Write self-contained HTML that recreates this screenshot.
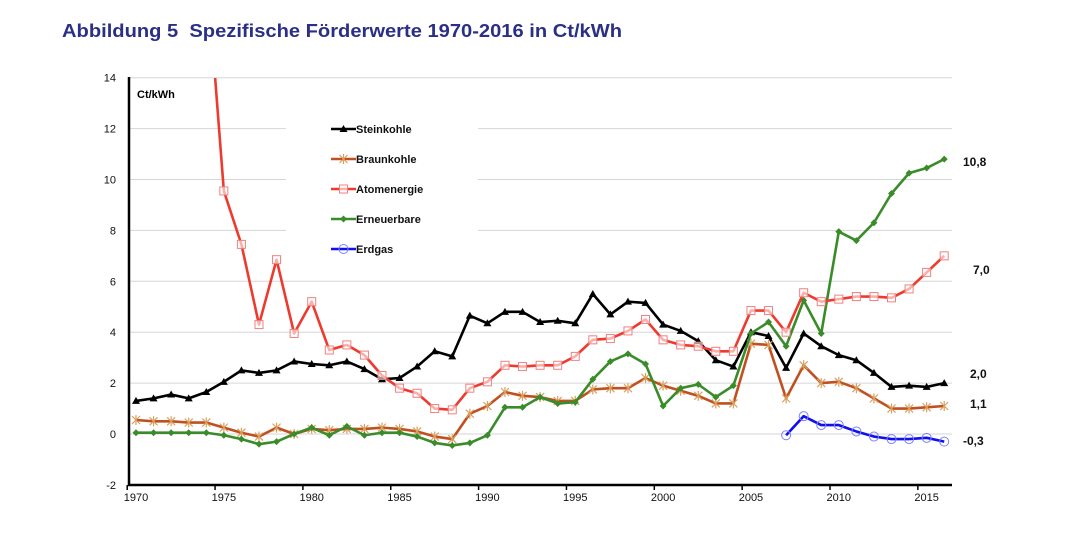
<!DOCTYPE html>
<html><head><meta charset="utf-8"><style>
body{margin:0;background:#fff;width:1079px;height:535px;overflow:hidden;font-family:"Liberation Sans","DejaVu Sans",sans-serif}
</style></head><body>
<svg id="chart" width="1079" height="535" xmlns="http://www.w3.org/2000/svg" font-family="Liberation Sans, DejaVu Sans, sans-serif">
<text x="62" y="37" font-size="18" font-weight="bold" fill="#2b2f86" textLength="560" lengthAdjust="spacingAndGlyphs" style="white-space:pre">Abbildung 5  Spezifische Förderwerte 1970-2016 in Ct/kWh</text>
<g id="grid"></g>
<rect x="286" y="100" width="192" height="165" fill="#fff"/>
<g id="axes"></g>
<g id="series"></g>
<text x="137" y="98" font-size="11" font-weight="bold">Ct/kWh</text>
<g id="legend"></g>
<g id="endlabels"></g>
</svg>
<script>
const years = [];
for (let y = 1970; y <= 2016; y++) years.push(y);
const steinkohle = [1.3,1.4,1.55,1.4,1.65,2.05,2.5,2.4,2.5,2.85, 2.75,2.7,2.85,2.55,2.15,2.2,2.65,3.25,3.05,4.65, 4.35,4.8,4.8,4.4,4.45,4.35,5.5,4.7,5.2,5.15, 4.3,4.05,3.65,2.9,2.65,4.0,3.85,2.6,3.95,3.45, 3.1,2.9,2.4,1.85,1.9,1.85,2.0];
const braunkohle = [0.55,0.5,0.5,0.45,0.45,0.25,0.05,-0.1,0.25,0.0, 0.2,0.15,0.2,0.2,0.25,0.2,0.1,-0.1,-0.2,0.8, 1.1,1.65,1.5,1.45,1.3,1.3,1.75,1.8,1.8,2.2, 1.9,1.7,1.5,1.2,1.2,3.55,3.5,1.4,2.7,2.0, 2.05,1.8,1.4,1.0,1.0,1.05,1.1];
const atomStartYear = 1974;
const atomenergie = [18.5,9.55,7.45,4.3,6.85,3.95, 5.2,3.3,3.5,3.1,2.3,1.8,1.6,1.0,0.95,1.8, 2.05,2.7,2.65,2.7,2.7,3.05,3.7,3.75,4.05,4.5, 3.7,3.5,3.45,3.25,3.25,4.85,4.85,4.0,5.55,5.2, 5.3,5.4,5.4,5.35,5.7,6.35,7.0];
const erneuerbare = [0.05,0.05,0.05,0.05,0.05,-0.05,-0.2,-0.4,-0.3,0.0, 0.25,-0.05,0.3,-0.05,0.05,0.05,-0.1,-0.35,-0.45,-0.35, -0.05,1.05,1.05,1.45,1.2,1.25,2.15,2.85,3.15,2.75, 1.1,1.8,1.95,1.45,1.9,3.95,4.4,3.45,5.25,3.95, 7.95,7.6,8.3,9.45,10.25,10.45,10.8];
const erdgasStartYear = 2007;
const erdgas = [-0.05,0.7,0.35,0.35,0.1,-0.1,-0.2,-0.2,-0.15,-0.3];
const yTicks = [-2,0,2,4,6,8,10,12,14];
const xTicks = [1970,1975,1980,1985,1990,1995,2000,2005,2010,2015];
const endLabels = ["10,8","7,0","2,0","1,1","-0,3"];

const NS = "http://www.w3.org/2000/svg";
const X = yr => 136 + (yr - 1970) * 17.57;
const Y = v => 434 - v * 25.45;
function mk(tag, attrs, parent) {
  const e = document.createElementNS(NS, tag);
  for (const k in attrs) e.setAttribute(k, attrs[k]);
  parent.appendChild(e); return e;
}
const grid = document.getElementById('grid'), axes = document.getElementById('axes');
yTicks.forEach(t => {
  if (t > -2) {
    const l = mk('line', {x1:129, x2:952, y1:Y(t), y2:Y(t), stroke:'#d6d6d6', 'stroke-width':1}, grid);
    
    
  }
  const tx = mk('text', {x:116, y:Y(t)+4, 'font-size':11, 'text-anchor':'end', fill:'#111'}, axes);
  tx.textContent = t;
  
  
});
mk('line', {x1:129, x2:129, y1:77, y2:486, stroke:'#000', 'stroke-width':2.5}, axes);
mk('line', {x1:128, x2:952, y1:485, y2:485, stroke:'#000', 'stroke-width':2.5}, axes);
xTicks.forEach(t => {
  mk('line', {x1:X(t)-8.8, x2:X(t)-8.8, y1:485, y2:490, stroke:'#000', 'stroke-width':1.5}, axes);
  const tx = mk('text', {x:X(t), y:501, 'font-size':11, 'text-anchor':'middle', fill:'#111'}, axes);
  tx.textContent = t;
  
  
});
const series = document.getElementById('series');
const cp = mk('clipPath', {id:'clip'}, series);
mk('rect', {x:125, y:78, width:840, height:420}, cp);

function marker(type, x, y, color, g) {
  if (type === 'tri') mk('path', {d:`M${x-4},${y+3}L${x+4},${y+3}L${x},${y-4}Z`, fill:color}, g);
  else if (type === 'star') {
    mk('path', {d:`M${x-4},${y-4}L${x+4},${y+4}M${x-4},${y+4}L${x+4},${y-4}M${x},${y-5}L${x},${y+5}`, stroke:'#d9a060', 'stroke-width':1.2, fill:'none'}, g);
  } else if (type === 'sq') mk('rect', {x:x-4, y:y-4, width:8, height:8, fill:'#fff', 'fill-opacity':0.6, stroke:'#f08080', 'stroke-width':1}, g);
  else if (type === 'dia') mk('path', {d:`M${x},${y-3.5}L${x+3.5},${y}L${x},${y+3.5}L${x-3.5},${y}Z`, fill:color}, g);
  else if (type === 'circ') mk('circle', {cx:x, cy:y, r:4.5, fill:'none', stroke:'#8080ff', 'stroke-width':1}, g);
}
function draw(name, vals, start, color, type) {
  const g = mk('g', {'clip-path':'url(#clip)'}, series);
  
  
  const pts = vals.map((v, i) => [X(start + i), Y(v)]);
  mk('polyline', {points: pts.map(p => p.join(',')).join(' '), fill:'none', stroke:color, 'stroke-width':2.6, 'stroke-linejoin':'round'}, g);
  pts.forEach(p => marker(type, p[0], p[1], color, g));
}
draw('steinkohle', steinkohle, 1970, '#000', 'tri');
draw('braunkohle', braunkohle, 1970, '#c0501f', 'star');
draw('erneuerbare', erneuerbare, 1970, '#3a8c2a', 'dia');
draw('atomenergie', atomenergie, atomStartYear, '#ee3a2e', 'sq');
draw('erdgas', erdgas, erdgasStartYear, '#1010ee', 'circ');

const legend = document.getElementById('legend');
const legItems = [['Steinkohle','#000','tri'],['Braunkohle','#c0501f','star'],['Atomenergie','#ee3a2e','sq'],['Erneuerbare','#3a8c2a','dia'],['Erdgas','#1010ee','circ']];
legItems.forEach((it, i) => {
  const y = 129 + i * 30;
  const g = mk('g', {}, legend);
  
  
  mk('line', {x1:331, x2:356, y1:y, y2:y, stroke:it[1], 'stroke-width':2.6}, g);
  marker(it[2], 343.5, y, it[1], g);
  const t = mk('text', {x:356, y:y+4, 'font-size':11, 'font-weight':'bold', fill:'#111'}, g);
  t.textContent = it[0];
});
const endG = document.getElementById('endlabels');
const endYpx = [166, 274, 378, 408, 445];
const endX = [963, 973, 970, 970, 963];
endLabels.forEach((s, i) => {
  const t = mk('text', {x:endX[i], y:endYpx[i], 'font-size':12, 'font-weight':'bold', fill:'#111'}, endG);
  t.textContent = s;
  
  
});
</script>
</body></html>
